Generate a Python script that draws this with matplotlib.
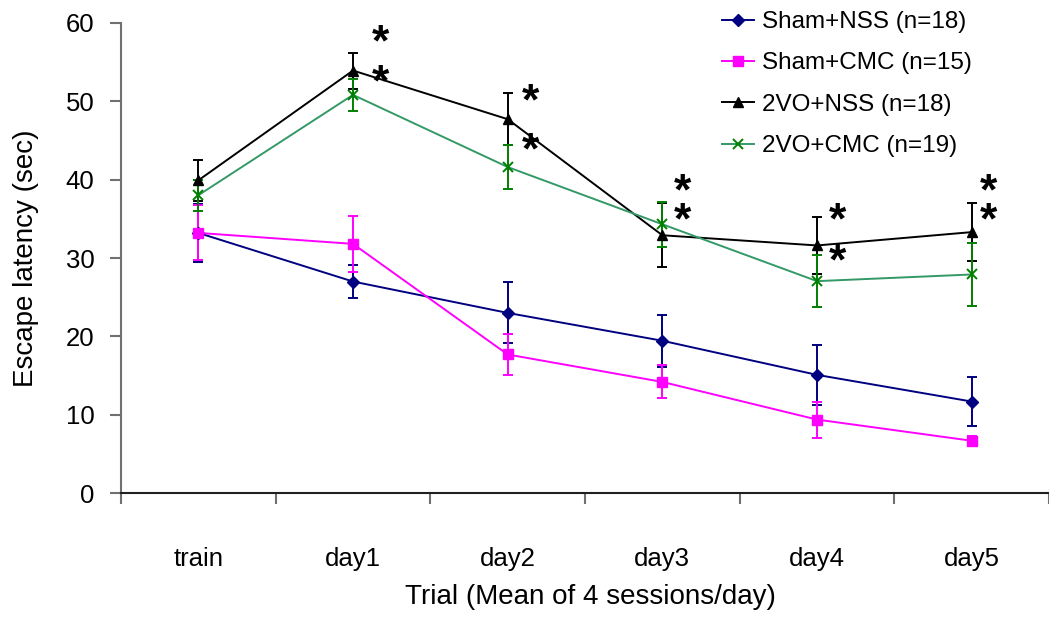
import matplotlib
matplotlib.use("Agg")
import matplotlib.pyplot as plt
import numpy as np

plt.rcParams['font.family'] = ['Liberation Sans', 'DejaVu Sans']

# categories on the x axis
trials = ["train", "day1", "day2", "day3", "day4", "day5"]

# mean escape latency (sec) and error per group
sham_nss = [33.2, 27.0, 23.0, 19.45, 15.1, 11.7]
sham_nss_err = [3.7, 2.1, 3.9, 3.3, 3.8, 3.1]
sham_cmc = [33.2, 31.8, 17.7, 14.2, 9.4, 6.7]
sham_cmc_err = [3.5, 3.6, 2.6, 2.1, 2.3, 0.6]
vo_nss = [39.9, 53.9, 47.7, 32.9, 31.6, 33.3]
vo_nss_err = [2.6, 2.3, 3.3, 4.1, 3.6, 3.7]
vo_cmc = [38.0, 50.8, 41.6, 34.3, 27.05, 27.9]
vo_cmc_err = [2.0, 2.0, 2.8, 2.9, 3.35, 4.05]

# significance stars (two per day, day1..day5)
star_days = [1, 2, 3, 4, 5]
star_upper = [58.3, 50.8, 39.3, 35.6, 39.3]
star_lower = [53.2, 44.6, 35.6, 30.4, 35.6]
star_shift = [0.18, 0.15, 0.13, 0.135, 0.11]

fig = plt.figure(figsize=(10.49, 6.23), dpi=100)
ax = fig.add_axes([121/1049, 1-493.3/623, 1-121/1049, (493.3-22.7)/623])

x = np.arange(len(trials))

series = [
    (sham_nss, sham_nss_err, "Sham+NSS (n=18)", "#000080", "#000080", "D", 6),
    (sham_cmc, sham_cmc_err, "Sham+CMC (n=15)", "#FF00FF", "#FF00FF", "s", 7),
    (vo_nss, vo_nss_err, "2VO+NSS (n=18)", "black", "black", "^", 7),
    (vo_cmc, vo_cmc_err, "2VO+CMC (n=19)", "#339966", "#008000", "x", 7),
]
for vals, err, lab, lc, mc, mk, ms in series:
    ax.errorbar(x, vals, yerr=err, fmt='none', ecolor=mc, elinewidth=1.4,
                capsize=3.6, capthick=1.4, zorder=2)
    ax.plot(x, vals, color=lc, lw=1.4, marker=mk, ms=ms, mfc=mc, mec=mc,
            mew=1.4 if mk == "x" else 1, label=lab, zorder=3)

for d, yu, yl, s in zip(star_days, star_upper, star_lower, star_shift):
    for yy in (yu, yl):
        ax.annotate("*", xy=(d + s, yy), xytext=(0, -14), textcoords='offset points',
                    ha='center', va='baseline', fontsize=32, fontweight='bold')

ax.set_xlim(-0.5, -0.5 + 928/155.6)
ax.set_ylim(0, 60)
ax.set_yticks(np.arange(0, 61, 10))
ax.set_xticks(np.arange(-0.5, 6, 1.0))
ax.set_xticklabels([])
ax.set_xticks(x, minor=True)
ax.set_xticklabels(trials, minor=True)

ax.spines['top'].set_visible(False)
ax.spines['right'].set_visible(False)
ax.spines['left'].set_color('#707070')
ax.spines['left'].set_linewidth(1.5)
ax.spines['bottom'].set_color('#202020')
ax.spines['bottom'].set_linewidth(1.5)
ax.tick_params(axis='y', direction='out', length=8, width=1.5, color='#707070',
               pad=11, labelsize=18.5)
ax.tick_params(axis='x', which='major', direction='out', length=8, width=1.5,
               color='#707070')
ax.tick_params(axis='x', which='minor', length=0, pad=39, labelsize=18.5)

fig.text(26/1049, 1-258/623, "Escape latency (sec)", rotation=90,
         ha='center', va='center', fontsize=20)
fig.text(590/1049, 1-597/623, "Trial (Mean of 4 sessions/day)",
         ha='center', va='center', fontsize=20)

ax.legend(loc='upper left', bbox_to_anchor=(722/1049, 1-11/623),
          bbox_transform=fig.transFigure, frameon=False, fontsize=17.5,
          handlelength=1.3, handletextpad=0.35, labelspacing=0.8,
          borderpad=0, numpoints=1, borderaxespad=0)

fig.savefig("out.png", dpi=100)
